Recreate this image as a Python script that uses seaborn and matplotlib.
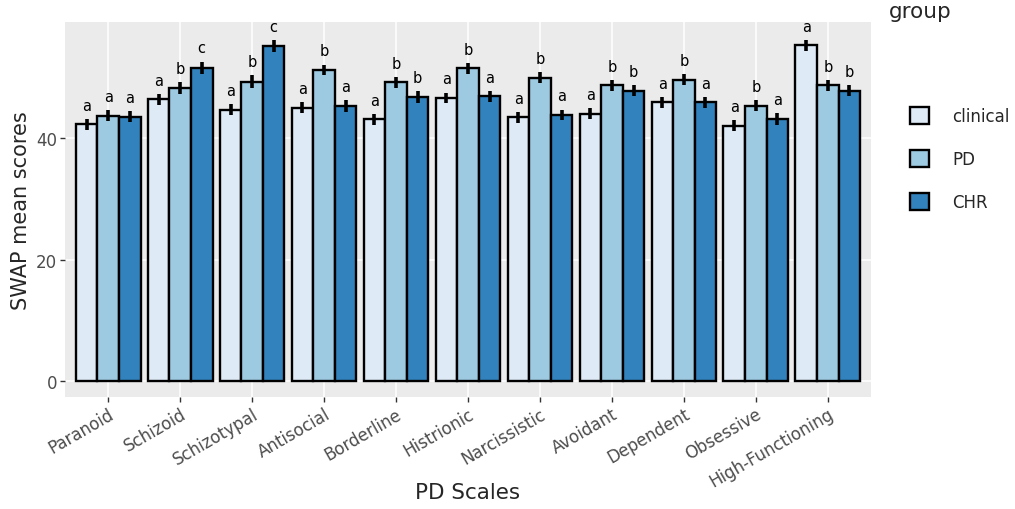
import pandas as pd
import numpy as np
import matplotlib.pyplot as plt
import seaborn as sns

# PD scales on the x axis
scales = ["Paranoid", "Schizoid", "Schizotypal", "Antisocial", "Borderline",
          "Histrionic", "Narcissistic", "Avoidant", "Dependent", "Obsessive",
          "High-Functioning"]
groups = ["clinical", "PD", "CHR"]

# SWAP mean scores per group
mean_clinical = [42.3, 46.4, 44.7, 45.0, 43.1, 46.6, 43.4, 44.0, 45.9, 42.0, 55.3]
mean_pd       = [43.7, 48.2, 49.3, 51.2, 49.2, 51.5, 49.9, 48.7, 49.6, 45.3, 48.7]
mean_chr      = [43.5, 51.6, 55.2, 45.3, 46.7, 46.9, 43.8, 47.8, 45.9, 43.1, 47.8]

# standard errors
se_clinical = [0.9, 0.9, 0.9, 0.9, 0.9, 0.9, 0.9, 0.9, 0.9, 0.9, 0.9]
se_pd       = [0.9, 1.0, 1.0, 0.9, 0.9, 0.9, 0.9, 0.9, 0.9, 0.9, 0.9]
se_chr      = [0.9, 1.0, 1.0, 1.0, 1.0, 0.9, 0.9, 0.9, 0.9, 1.0, 0.9]

# significance letters
let_clinical = ["a", "a", "a", "a", "a", "a", "a", "a", "a", "a", "a"]
let_pd       = ["a", "b", "b", "b", "b", "b", "b", "b", "b", "b", "b"]
let_chr      = ["a", "c", "c", "a", "b", "a", "a", "b", "a", "a", "b"]

colors = ["#DEEBF7", "#9ECAE1", "#3182BD"]

df = pd.DataFrame({
    "scale": scales * 3,
    "group": [g for g in groups for _ in scales],
    "mean": mean_clinical + mean_pd + mean_chr,
    "se": se_clinical + se_pd + se_chr,
    "letter": let_clinical + let_pd + let_chr,
})

sns.set_theme(style="darkgrid", rc={
    "axes.facecolor": "#EBEBEB",
    "grid.color": "white",
    "grid.linewidth": 1.1,
    "axes.edgecolor": "#EBEBEB",
})
plt.rcParams["font.family"] = ["DejaVu Sans"]

fig = plt.figure(figsize=(10.15, 5.1), dpi=100)
ax = fig.add_axes([65 / 1015, 1 - 398 / 510, (871 - 65) / 1015, (398 - 23) / 510])

sns.barplot(data=df, x="scale", y="mean", hue="group", order=scales,
            hue_order=groups, palette=colors, width=0.9, edgecolor="black",
            linewidth=1.7, errorbar=None, saturation=1, ax=ax, zorder=2)

# error bars and letters from the bar positions
for g, cont in zip(groups, ax.containers):
    sub = df[df["group"] == g].set_index("scale").loc[scales]
    for bar, (_, row) in zip(cont.patches, sub.iterrows()):
        xc = bar.get_x() + bar.get_width() / 2
        ax.plot([xc, xc], [row["mean"] - row["se"], row["mean"] + row["se"]],
                color="black", lw=2.6, zorder=4, solid_capstyle="butt")
        ax.text(xc, row["mean"] + row["se"] + 1.0, row["letter"], ha="center",
                va="bottom", fontsize=10.5, color="black", zorder=5)

ax.set_xlim(-0.6, 10.6)
ax.set_ylim(-2.6, 59.1)
ax.set_yticks([0, 20, 40])
ax.grid(True, axis="both", zorder=0)
ax.set_axisbelow(True)
ax.tick_params(axis="both", length=3.5, width=1.0, color="#333333",
               labelcolor="#4D4D4D", labelsize=12, pad=2, left=True, bottom=True)
plt.setp(ax.get_xticklabels(), rotation=30, ha="right", rotation_mode="anchor")
ax.set_xlabel("")
ax.set_ylabel("SWAP mean scores", fontsize=15, labelpad=4)
fig.text(468 / 1015, 1 - 493 / 510, "PD Scales", fontsize=15.5,
         ha="center", va="center")
for s in ax.spines.values():
    s.set_visible(False)

# legend
handles, labels = ax.get_legend_handles_labels()
ax.legend_.remove()
leg = fig.legend(handles, labels, loc="center left",
                 bbox_to_anchor=(910 / 1015, 1 - 160 / 510), frameon=False,
                 fontsize=12, handlelength=1.15, handleheight=1.15,
                 labelspacing=1.5, handletextpad=1.4, borderpad=0,
                 borderaxespad=0)
for h in leg.legend_handles:
    h.set_edgecolor("black")
    h.set_linewidth(1.7)
fig.text(889 / 1015, 1 - 12 / 510, "group", fontsize=15.5, ha="left", va="center")

fig.savefig("out.png", dpi=100)
